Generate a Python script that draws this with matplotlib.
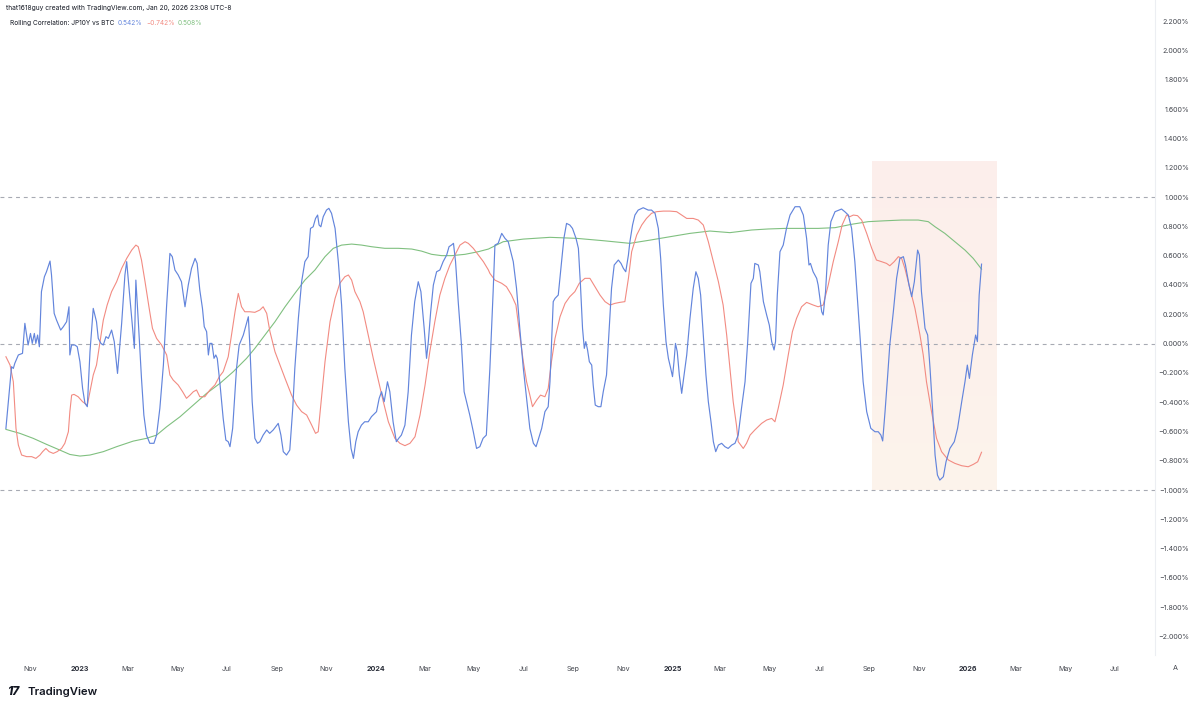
import numpy as np
import pandas as pd
import matplotlib
matplotlib.use("Agg")
import matplotlib.pyplot as plt
import matplotlib.dates as mdates

plt.rcParams['font.family'] = ['Inter', 'DejaVu Sans']

# ---------------- data (time in decimal years, values in %) ----------------
blue_t = [2022.750, 2022.769, 2022.775, 2022.780, 2022.792, 2022.806, 2022.814, 2022.820, 2022.825, 2022.833,
          2022.839, 2022.846, 2022.851, 2022.857, 2022.863, 2022.870, 2022.880, 2022.887, 2022.899, 2022.904,
          2022.913, 2022.921, 2022.935, 2022.944, 2022.955, 2022.963, 2022.966, 2022.972, 2022.983, 2022.991,
          2023.000, 2023.009, 2023.017, 2023.025, 2023.034, 2023.045, 2023.056, 2023.062, 2023.071, 2023.079,
          2023.088, 2023.096, 2023.107, 2023.116, 2023.127, 2023.141, 2023.152, 2023.158, 2023.163, 2023.175,
          2023.184, 2023.189, 2023.197, 2023.208, 2023.216, 2023.225, 2023.236, 2023.250, 2023.259, 2023.270,
          2023.282, 2023.293, 2023.304, 2023.312, 2023.321, 2023.332, 2023.343, 2023.355, 2023.366, 2023.377,
          2023.389, 2023.396, 2023.405, 2023.414, 2023.420, 2023.428, 2023.434, 2023.439, 2023.446, 2023.453,
          2023.459, 2023.464, 2023.473, 2023.484, 2023.493, 2023.501, 2023.507, 2023.516, 2023.529, 2023.538,
          2023.552, 2023.569, 2023.574, 2023.582, 2023.591, 2023.600, 2023.608, 2023.619, 2023.631, 2023.641,
          2023.653, 2023.670, 2023.679, 2023.687, 2023.698, 2023.709, 2023.719, 2023.726, 2023.738, 2023.749,
          2023.760, 2023.771, 2023.779, 2023.788, 2023.796, 2023.803, 2023.808, 2023.814, 2023.822, 2023.833,
          2023.841, 2023.850, 2023.862, 2023.873, 2023.884, 2023.895, 2023.907, 2023.916, 2023.924, 2023.932,
          2023.940, 2023.951, 2023.962, 2023.974, 2023.985, 2024.002, 2024.011, 2024.019, 2024.028, 2024.039,
          2024.047, 2024.058, 2024.069, 2024.077, 2024.086, 2024.098, 2024.109, 2024.120, 2024.131, 2024.143,
          2024.152, 2024.163, 2024.171, 2024.177, 2024.185, 2024.194, 2024.205, 2024.216, 2024.227, 2024.239,
          2024.247, 2024.255, 2024.262, 2024.269, 2024.278, 2024.289, 2024.298, 2024.306, 2024.317, 2024.329,
          2024.340, 2024.351, 2024.362, 2024.373, 2024.385, 2024.396, 2024.402, 2024.413, 2024.425, 2024.436,
          2024.447, 2024.464, 2024.475, 2024.486, 2024.498, 2024.509, 2024.520, 2024.532, 2024.541, 2024.548,
          2024.560, 2024.571, 2024.582, 2024.588, 2024.599, 2024.605, 2024.616, 2024.627, 2024.635, 2024.644,
          2024.655, 2024.664, 2024.676, 2024.684, 2024.691, 2024.698, 2024.704, 2024.709, 2024.715, 2024.721,
          2024.729, 2024.734, 2024.741, 2024.751, 2024.760, 2024.768, 2024.779, 2024.788, 2024.796, 2024.805,
          2024.819, 2024.828, 2024.836, 2024.844, 2024.853, 2024.858, 2024.867, 2024.875, 2024.886, 2024.903,
          2024.920, 2024.931, 2024.943, 2024.954, 2024.962, 2024.971, 2024.980, 2024.988, 2024.996, 2025.002,
          2025.007, 2025.012, 2025.018, 2025.025, 2025.033, 2025.038, 2025.050, 2025.061, 2025.072, 2025.081,
          2025.089, 2025.097, 2025.106, 2025.115, 2025.123, 2025.132, 2025.140, 2025.148, 2025.157, 2025.168,
          2025.179, 2025.190, 2025.202, 2025.213, 2025.224, 2025.235, 2025.247, 2025.256, 2025.267, 2025.275,
          2025.280, 2025.292, 2025.297, 2025.309, 2025.320, 2025.329, 2025.337, 2025.345, 2025.350, 2025.356,
          2025.365, 2025.376, 2025.387, 2025.399, 2025.416, 2025.432, 2025.444, 2025.455, 2025.463, 2025.468,
          2025.477, 2025.489, 2025.494, 2025.506, 2025.511, 2025.519, 2025.528, 2025.537, 2025.551, 2025.573,
          2025.584, 2025.596, 2025.607, 2025.618, 2025.632, 2025.646, 2025.658, 2025.672, 2025.686, 2025.697,
          2025.706, 2025.712, 2025.720, 2025.729, 2025.736, 2025.748, 2025.759, 2025.770, 2025.782, 2025.789,
          2025.801, 2025.810, 2025.819, 2025.830, 2025.836, 2025.843, 2025.855, 2025.864, 2025.872, 2025.881,
          2025.889, 2025.897, 2025.905, 2025.917, 2025.926, 2025.939, 2025.954, 2025.965, 2025.979, 2025.990,
          2025.998, 2026.005, 2026.015, 2026.026, 2026.032, 2026.038, 2026.046]
blue_v = [-0.579, -0.158, -0.170, -0.135, -0.078, -0.067, 0.138, 0.058, -0.010, 0.069,
          0.001, 0.069, 0.001, 0.058, -0.022, 0.354, 0.456, 0.490, 0.563, 0.468,
          0.206, 0.160, 0.092, 0.115, 0.149, 0.251, -0.078, -0.010, -0.010, -0.022,
          -0.124, -0.306, -0.408, -0.431, -0.056, 0.240, 0.149, 0.035, 0.001, -0.010,
          0.047, 0.035, 0.092, 0.013, -0.204, 0.138, 0.468, 0.559, 0.445, 0.172,
          -0.033, 0.433, 0.160, -0.238, -0.488, -0.625, -0.681, -0.681, -0.625, -0.443,
          -0.147, 0.263, 0.615, 0.593, 0.502, 0.468, 0.422, 0.251, 0.399, 0.513,
          0.581, 0.547, 0.365, 0.240, 0.115, 0.081, -0.078, 0.001, 0.001, -0.101,
          -0.078, -0.101, -0.272, -0.511, -0.659, -0.670, -0.704, -0.579, -0.170, -0.010,
          0.058, 0.183, -0.010, -0.397, -0.647, -0.681, -0.670, -0.625, -0.590, -0.613,
          -0.590, -0.545, -0.625, -0.738, -0.761, -0.727, -0.442, -0.170, 0.172, 0.422,
          0.559, 0.593, 0.786, 0.797, 0.854, 0.877, 0.809, 0.797, 0.866, 0.911,
          0.923, 0.889, 0.786, 0.559, 0.263, -0.170, -0.534, -0.716, -0.784, -0.670,
          -0.602, -0.557, -0.534, -0.534, -0.499, -0.465, -0.374, -0.329, -0.397, -0.261,
          -0.329, -0.534, -0.670, -0.647, -0.625, -0.557, -0.329, 0.058, 0.286, 0.422,
          0.354, 0.104, -0.101, 0.013, 0.217, 0.399, 0.490, 0.502, 0.559, 0.604,
          0.661, 0.672, 0.684, 0.559, 0.286, -0.010, -0.329, -0.397, -0.488, -0.602,
          -0.716, -0.704, -0.647, -0.625, -0.170, 0.354, 0.672, 0.684, 0.752, 0.718,
          0.695, 0.559, 0.377, 0.104, -0.170, -0.374, -0.579, -0.681, -0.704, -0.659,
          -0.579, -0.465, -0.431, -0.261, 0.286, 0.308, 0.331, 0.559, 0.718, 0.820,
          0.809, 0.786, 0.718, 0.650, 0.399, 0.104, -0.033, 0.013, -0.044, -0.124,
          -0.147, -0.283, -0.420, -0.431, -0.431, -0.329, -0.215, 0.104, 0.377, 0.536,
          0.570, 0.547, 0.513, 0.490, 0.604, 0.695, 0.809, 0.877, 0.911, 0.927,
          0.911, 0.911, 0.889, 0.786, 0.581, 0.263, 0.013, -0.101, -0.170, -0.226,
          -0.124, 0.001, -0.056, -0.215, -0.340, -0.261, -0.078, 0.172, 0.377, 0.490,
          0.445, 0.331, 0.058, -0.215, -0.397, -0.534, -0.670, -0.738, -0.693, -0.681,
          -0.704, -0.716, -0.693, -0.681, -0.625, -0.443, -0.261, 0.013, 0.411, 0.445,
          0.547, 0.536, 0.490, 0.286, 0.195, 0.126, 0.013, -0.044, 0.013, 0.331,
          0.627, 0.672, 0.786, 0.877, 0.934, 0.934, 0.877, 0.718, 0.536, 0.547,
          0.490, 0.445, 0.399, 0.217, 0.195, 0.354, 0.672, 0.832, 0.900, 0.918,
          0.900, 0.877, 0.786, 0.559, 0.149, -0.261, -0.465, -0.579, -0.602, -0.602,
          -0.625, -0.665, -0.465, -0.215, -0.010, 0.217, 0.445, 0.581, 0.593, 0.536,
          0.399, 0.320, 0.422, 0.638, 0.604, 0.354, 0.104, 0.058, -0.170, -0.465,
          -0.761, -0.898, -0.932, -0.909, -0.807, -0.716, -0.670, -0.579, -0.397, -0.261,
          -0.147, -0.238, -0.078, 0.058, 0.013, 0.331, 0.542]

red_t = [2022.750, 2022.764, 2022.775, 2022.784, 2022.792, 2022.803, 2022.820, 2022.837, 2022.851, 2022.865,
         2022.874, 2022.885, 2022.896, 2022.910, 2022.923, 2022.938, 2022.949, 2022.961, 2022.966, 2022.972,
         2022.980, 2022.994, 2023.009, 2023.025, 2023.034, 2023.045, 2023.056, 2023.068, 2023.079, 2023.092,
         2023.107, 2023.124, 2023.141, 2023.158, 2023.175, 2023.189, 2023.197, 2023.208, 2023.220, 2023.234,
         2023.245, 2023.259, 2023.276, 2023.293, 2023.304, 2023.315, 2023.332, 2023.347, 2023.360, 2023.372,
         2023.383, 2023.394, 2023.405, 2023.422, 2023.439, 2023.456, 2023.471, 2023.484, 2023.501, 2023.512,
         2023.524, 2023.535, 2023.546, 2023.557, 2023.574, 2023.591, 2023.608, 2023.619, 2023.631, 2023.642,
         2023.659, 2023.676, 2023.693, 2023.715, 2023.732, 2023.749, 2023.766, 2023.783, 2023.796, 2023.805,
         2023.816, 2023.828, 2023.845, 2023.862, 2023.878, 2023.895, 2023.907, 2023.918, 2023.929, 2023.946,
         2023.957, 2023.974, 2023.991, 2024.008, 2024.025, 2024.042, 2024.064, 2024.081, 2024.098, 2024.115,
         2024.132, 2024.149, 2024.166, 2024.182, 2024.199, 2024.216, 2024.233, 2024.250, 2024.267, 2024.284,
         2024.301, 2024.312, 2024.329, 2024.346, 2024.363, 2024.380, 2024.385, 2024.402, 2024.425, 2024.441,
         2024.458, 2024.473, 2024.486, 2024.498, 2024.509, 2024.520, 2024.529, 2024.543, 2024.556, 2024.571,
         2024.582, 2024.593, 2024.605, 2024.622, 2024.639, 2024.655, 2024.672, 2024.687, 2024.706, 2024.723,
         2024.740, 2024.757, 2024.774, 2024.791, 2024.807, 2024.824, 2024.841, 2024.853, 2024.864, 2024.881,
         2024.898, 2024.914, 2024.931, 2024.948, 2024.971, 2024.993, 2025.016, 2025.033, 2025.050, 2025.072,
         2025.089, 2025.106, 2025.123, 2025.140, 2025.157, 2025.173, 2025.185, 2025.196, 2025.207, 2025.218,
         2025.224, 2025.241, 2025.252, 2025.264, 2025.280, 2025.303, 2025.320, 2025.337, 2025.348, 2025.359,
         2025.376, 2025.393, 2025.407, 2025.421, 2025.438, 2025.455, 2025.477, 2025.494, 2025.511, 2025.528,
         2025.545, 2025.562, 2025.575, 2025.590, 2025.601, 2025.613, 2025.627, 2025.641, 2025.658, 2025.675,
         2025.691, 2025.708, 2025.725, 2025.736, 2025.751, 2025.765, 2025.776, 2025.787, 2025.804, 2025.821,
         2025.838, 2025.849, 2025.860, 2025.877, 2025.894, 2025.911, 2025.934, 2025.956, 2025.979, 2026.001,
         2026.018, 2026.033, 2026.046]
red_v = [-0.090, -0.147, -0.261, -0.579, -0.693, -0.761, -0.772, -0.772, -0.784, -0.761,
         -0.738, -0.716, -0.738, -0.750, -0.738, -0.716, -0.681, -0.602, -0.465, -0.352,
         -0.347, -0.363, -0.397, -0.420, -0.329, -0.215, -0.147, 0.013, 0.160, 0.263,
         0.354, 0.422, 0.513, 0.581, 0.638, 0.672, 0.661, 0.570, 0.422, 0.240,
         0.104, 0.035, -0.010, -0.078, -0.215, -0.249, -0.283, -0.329, -0.374, -0.352,
         -0.329, -0.317, -0.363, -0.363, -0.317, -0.283, -0.226, -0.192, -0.090, 0.058,
         0.217, 0.342, 0.251, 0.217, 0.217, 0.213, 0.229, 0.251, 0.206, 0.081,
         -0.056, -0.147, -0.238, -0.352, -0.420, -0.465, -0.488, -0.557, -0.613, -0.602,
         -0.374, -0.124, 0.149, 0.308, 0.411, 0.456, 0.468, 0.433, 0.354, 0.286,
         0.217, 0.058, -0.101, -0.249, -0.397, -0.534, -0.647, -0.681, -0.697, -0.681,
         -0.636, -0.488, -0.283, -0.056, 0.149, 0.331, 0.445, 0.536, 0.604, 0.672,
         0.695, 0.684, 0.650, 0.604, 0.559, 0.502, 0.479, 0.433, 0.411, 0.388,
         0.331, 0.263, 0.058, -0.124, -0.261, -0.352, -0.431, -0.386, -0.352, -0.363,
         -0.306, -0.124, 0.035, 0.183, 0.274, 0.320, 0.354, 0.411, 0.445, 0.445,
         0.388, 0.331, 0.286, 0.263, 0.274, 0.281, 0.286, 0.445, 0.627, 0.741,
         0.809, 0.854, 0.889, 0.900, 0.904, 0.904, 0.900, 0.877, 0.854, 0.854,
         0.843, 0.809, 0.695, 0.559, 0.422, 0.263, 0.058, -0.170, -0.397, -0.557,
         -0.670, -0.716, -0.681, -0.625, -0.590, -0.545, -0.522, -0.511, -0.534, -0.443,
         -0.283, -0.078, 0.081, 0.172, 0.251, 0.281, 0.263, 0.251, 0.263, 0.399,
         0.559, 0.695, 0.809, 0.877, 0.866, 0.877, 0.873, 0.843, 0.752, 0.650,
         0.570, 0.559, 0.547, 0.531, 0.559, 0.593, 0.581, 0.513, 0.377, 0.240,
         0.058, -0.078, -0.261, -0.465, -0.647, -0.738, -0.795, -0.818, -0.834, -0.841,
         -0.825, -0.807, -0.742]

green_t = [2022.750, 2022.797, 2022.842, 2022.887, 2022.932, 2022.966, 2023.000, 2023.034, 2023.079, 2023.124,
           2023.180, 2023.225, 2023.259, 2023.293, 2023.338, 2023.383, 2023.428, 2023.473, 2023.518, 2023.563,
           2023.591, 2023.625, 2023.659, 2023.693, 2023.726, 2023.760, 2023.794, 2023.828, 2023.856, 2023.884,
           2023.918, 2023.952, 2023.985, 2024.030, 2024.076, 2024.121, 2024.154, 2024.188, 2024.222, 2024.256,
           2024.301, 2024.346, 2024.380, 2024.430, 2024.498, 2024.588, 2024.678, 2024.768, 2024.858, 2024.926,
           2024.993, 2025.061, 2025.128, 2025.196, 2025.269, 2025.325, 2025.382, 2025.438, 2025.494, 2025.551,
           2025.607, 2025.663, 2025.720, 2025.776, 2025.832, 2025.866, 2025.889, 2025.922, 2025.956, 2025.990,
           2026.018, 2026.046]
green_v = [-0.586, -0.613, -0.647, -0.688, -0.727, -0.757, -0.768, -0.761, -0.738, -0.704,
           -0.666, -0.647, -0.625, -0.568, -0.500, -0.420, -0.340, -0.272, -0.192, -0.101,
           -0.033, 0.058, 0.149, 0.251, 0.342, 0.433, 0.502, 0.593, 0.650, 0.672,
           0.679, 0.672, 0.661, 0.650, 0.650, 0.645, 0.631, 0.609, 0.600, 0.600,
           0.609, 0.627, 0.645, 0.695, 0.713, 0.725, 0.718, 0.702, 0.684, 0.706,
           0.729, 0.752, 0.768, 0.757, 0.775, 0.782, 0.786, 0.786, 0.786, 0.791,
           0.814, 0.832, 0.838, 0.843, 0.843, 0.832, 0.797, 0.752, 0.695, 0.638,
           0.581, 0.508]

y_ticks = [-2.0, -1.8, -1.6, -1.4, -1.2, -1.0, -0.8, -0.6, -0.4, -0.2, 0.0,
           0.2, 0.4, 0.6, 0.8, 1.0, 1.2, 1.4, 1.6, 1.8, 2.0, 2.2]
x_tick_dates = ['2022-11-01', '2023-01-01', '2023-03-01', '2023-05-01', '2023-07-01', '2023-09-01',
                '2023-11-01', '2024-01-01', '2024-03-01', '2024-05-01', '2024-07-01', '2024-09-01',
                '2024-11-01', '2025-01-01', '2025-03-01', '2025-05-01', '2025-07-01', '2025-09-01',
                '2025-11-01', '2026-01-01', '2026-03-01', '2026-05-01', '2026-07-01']
x_tick_labels = ['Nov', '2023', 'Mar', 'May', 'Jul', 'Sep', 'Nov', '2024', 'Mar', 'May', 'Jul', 'Sep',
                 'Nov', '2025', 'Mar', 'May', 'Jul', 'Sep', 'Nov', '2026', 'Mar', 'May', 'Jul']
levels = [1.0, 0.0, -1.0]
highlight_t = [2025.676, 2026.098]
highlight_v = [-1.0, 1.239]
x_range = [2022.730, 2026.632]
y_range = [-2.126, 2.345]

legend_title = "Rolling Correlation: JP10Y vs BTC"
legend_values = ["0.542%", "\u22120.742%", "0.508%"]
header = "that1618guy created with TradingView.com, Jan 20, 2026 23:08 UTC-8"

C_BLUE = '#6385dc'
C_RED = '#f28b82'
C_GREEN = '#80c080'


def to_dates(years):
    years = np.asarray(years, dtype=float)
    return pd.Timestamp('2023-01-01') + pd.to_timedelta((years - 2023.0) * 365.25, unit='D')


W, H = 1200, 709
fig = plt.figure(figsize=(W / 100, H / 100), dpi=100)
fig.patch.set_facecolor('white')
ax_bottom_px, ax_right_px = 655, 1155
ax = fig.add_axes([0, 1 - ax_bottom_px / H, ax_right_px / W, ax_bottom_px / H])
ax.set_facecolor('none')

# highlight box with soft vertical gradient
hx = to_dates(highlight_t)
grad = np.linspace(0, 1, 256).reshape(-1, 1)
top_c = np.array([252, 234, 232]) / 255.0
bot_c = np.array([253, 241, 230]) / 255.0
img = (bot_c[None, None, :] * (1 - grad[..., None]) + top_c[None, None, :] * grad[..., None])
img = img[::-1]
ax.imshow(img, extent=[mdates.date2num(hx[0]), mdates.date2num(hx[1]), highlight_v[0], highlight_v[1]],
          aspect='auto', zorder=0, interpolation='bilinear', alpha=0.8)

for lv in levels:
    ax.axhline(lv, color='#a7aab3', lw=0.8, ls=(0, (3.5, 3.5)), zorder=1)

ax.plot(to_dates(green_t), green_v, color=C_GREEN, lw=0.8, zorder=2)
ax.plot(to_dates(red_t), red_v, color=C_RED, lw=0.8, zorder=3)
ax.plot(to_dates(blue_t), blue_v, color=C_BLUE, lw=0.85, zorder=4)

ax.set_xlim(to_dates(x_range)[0], to_dates(x_range)[1])
ax.set_ylim(y_range[0], y_range[1])

for s in ax.spines.values():
    s.set_visible(False)

TICK_FS = 5.1
ax.yaxis.tick_right()
ax.set_yticks(y_ticks)
ax.set_yticklabels([f"{v:.3f}%".replace('-', '\u2212') if abs(v) > 1e-9 else "0.000%" for v in y_ticks])
ax.tick_params(axis='y', length=0, pad=24.5, labelsize=TICK_FS, labelcolor='#44474f')
for lab in ax.get_yticklabels():
    lab.set_horizontalalignment('right')

ax.set_xticks(to_dates([2023 + (pd.Timestamp(d) - pd.Timestamp('2023-01-01')).days / 365.25 for d in x_tick_dates]))
ax.set_xticklabels(x_tick_labels)
ax.tick_params(axis='x', length=0, pad=8, labelsize=TICK_FS, labelcolor='#44474f')
for lab, txt in zip(ax.get_xticklabels(), x_tick_labels):
    if txt.isdigit():
        lab.set_fontweight('bold')
        lab.set_color('#2a2e39')

# right price-scale separator
fig.add_artist(plt.Line2D([ax_right_px / W, ax_right_px / W], [1 - ax_bottom_px / H, 1],
                          color='#eceef2', lw=0.8))


def ftext(x, y, s, **kw):
    return fig.text(x / W, 1 - y / H, s, **kw)


ftext(6, 8, header, fontsize=4.8, color='#131722', va='center', ha='left')

# legend row: place each piece right after the previous one
renderer = fig.canvas.get_renderer()
x_cursor = 10
pieces = [(legend_title, '#131722'), (legend_values[0], C_BLUE),
          (legend_values[1], C_RED), (legend_values[2], C_GREEN)]
for txt, col in pieces:
    t = ftext(x_cursor, 23, txt, fontsize=4.7, color=col, va='center', ha='left')
    bb = t.get_window_extent(renderer=renderer)
    x_cursor += bb.width + 3.5

ftext(1175, 668, 'A', fontsize=5.2, color='#44474f', va='center', ha='center')

# TradingView watermark
ftext(7, 692, '17', fontsize=8.5, fontweight='heavy', color='#131722', va='center', ha='left',
      style='italic')
ftext(27, 692, 'TradingView', fontsize=8.2, fontweight='semibold', color='#131722', va='center', ha='left')

fig.savefig('out.png', dpi=100)
